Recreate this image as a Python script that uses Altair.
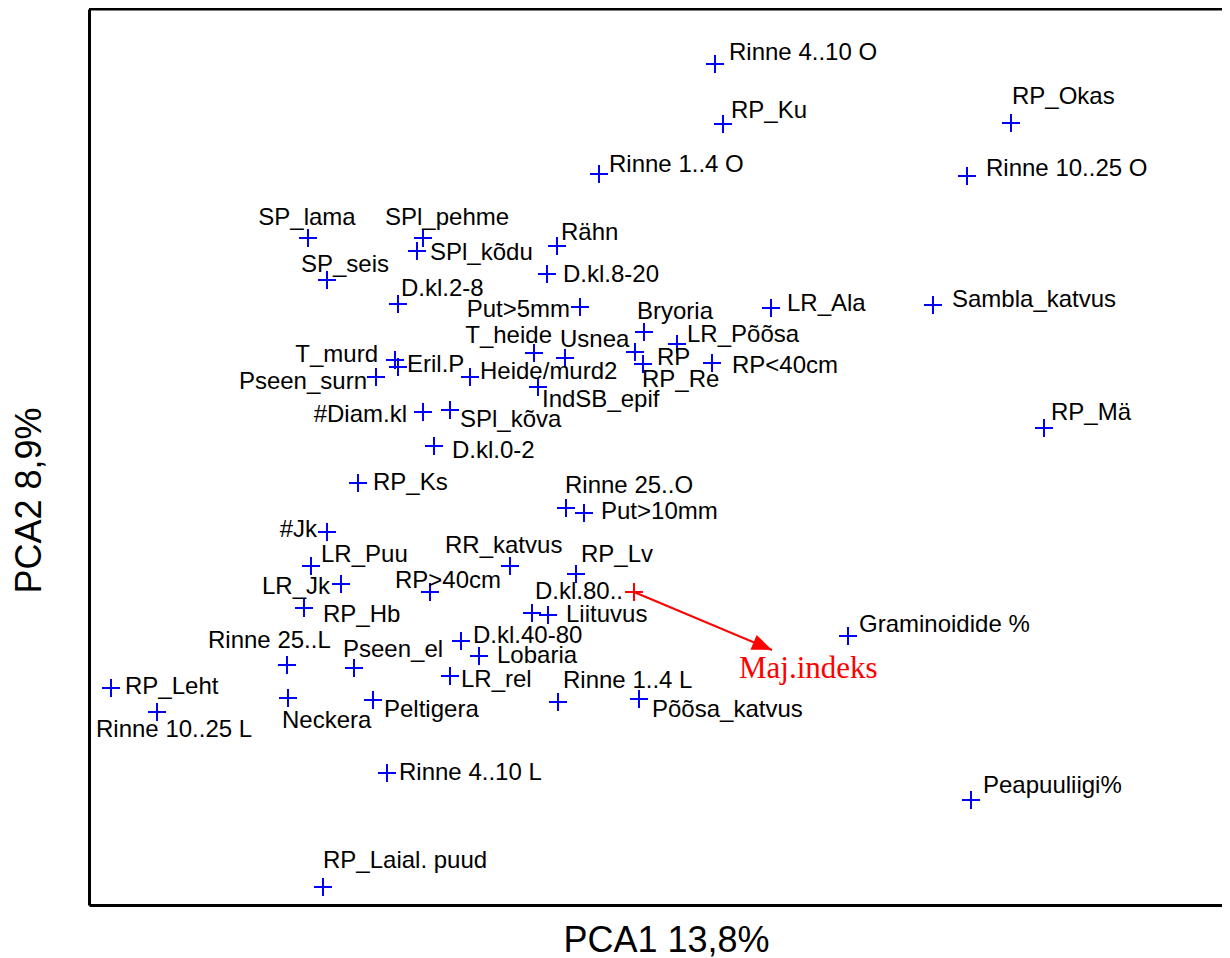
import math
import altair as alt
import pandas as pd

# ---- active variables (blue crosses) ----
names = [
    "SP_lama", "SPl_pehme", "SPl_kõdu", "SP_seis", "D.kl.2-8",
    "Rinne 4..10 O", "RP_Ku", "Rinne 1..4 O", "Rähn", "D.kl.8-20",
    "Put>5mm", "LR_Ala", "Bryoria", "RP_Okas", "Rinne 10..25 O",
    "Sambla_katvus", "T_murd", "Eril.P", "Pseen_surn", "Heide/murd2",
    "#Diam.kl", "SPl_kõva", "D.kl.0-2", "RP_Ks", "#Jk",
    "LR_Puu", "LR_Jk", "RP>40cm", "RP_Hb", "T_heide",
    "Usnea", "RP", "RP_Re", "LR_Põõsa", "RP<40cm",
    "IndSB_epif", "Rinne 25..O", "Put>10mm", "RR_katvus", "RP_Lv",
    "Liituvus", "", "D.kl.40-80", "Lobaria", "LR_rel",
    "Pseen_el", "Rinne 25..L", "Neckera", "Peltigera", "Rinne 1..4 L",
    "Põõsa_katvus", "RP_Leht", "Rinne 10..25 L", "Rinne 4..10 L", "RP_Laial. puud",
    "Graminoidide %", "Peapuuliigi%", "RP_Mä",
]
pc1 = [
    -3.47, -2.32, -2.38, -3.28, -2.57,
    0.60, 0.68, -0.56, -0.98, -1.08,
    -0.75, 1.16, -0.11, 3.56, 3.12,
    2.78, -2.60, -2.57, -2.79, -1.85,
    -2.32, -2.05, -2.21, -2.97, -3.28,
    -3.44, -3.14, -2.25, -3.51, -1.21,
    -0.90, -0.20, -0.12, 0.22, 0.57,
    -1.17, -0.89, -0.71, -1.45, -0.79,
    -1.07, -1.23, -1.94, -1.76, -2.05,
    -3.01, -3.68, -3.67, -2.82, -0.97,
    -0.16, -5.44, -4.98, -2.68, -3.32,
    1.93, 3.16, 3.89,
]
pc2 = [
    2.19, 2.19, 2.06, 1.77, 1.53,
    3.93, 3.33, 2.83, 2.11, 1.83,
    1.50, 1.49, 1.25, 3.34, 2.81,
    1.52, 0.97, 0.90, 0.80, 0.80,
    0.45, 0.47, 0.11, -0.26, -0.75,
    -1.09, -1.27, -1.35, -1.51, 1.04,
    0.99, 1.05, 0.93, 1.13, 0.94,
    0.70, -0.51, -0.56, -1.09, -1.17,
    -1.58, -1.56, -1.84, -1.99, -2.19,
    -2.11, -2.08, -2.41, -2.43, -2.45,
    -2.42, -2.31, -2.55, -3.16, -4.30,
    -1.79, -3.43, 0.29,
]
# label anchor points, and which side of the text is anchored
label_x = [
    -3.48, -2.70, -2.25, -3.54, -2.54,
    0.74, 0.76, -0.46, -0.94, -0.92,
    -0.85, 1.32, -0.18, 3.57, 3.31,
    2.97, -2.77, -2.48, -2.88, -1.75,
    -2.48, -1.95, -2.03, -2.82, -3.38,
    -3.34, -3.25, -2.60, -3.32, -1.03,
    -0.95, 0.02, -0.13, 0.32, 0.77,
    -1.13, -0.90, -0.54, -2.10, -0.74,
    -0.89, -1.23, -1.82, -1.58, -1.94,
    -3.12, -4.47, -3.73, -2.71, -0.92,
    -0.03, -5.30, -5.59, -2.56, -3.32,
    2.04, 3.28, 3.96,
]
label_y = [
    2.32, 2.32, 1.97, 1.85, 1.61,
    3.97, 3.39, 2.85, 2.17, 1.75,
    1.40, 1.46, 1.38, 3.53, 2.81,
    1.50, 0.95, 0.85, 0.68, 0.78,
    0.35, 0.30, -0.01, -0.33, -0.80,
    -1.05, -1.37, -1.31, -1.65, 1.14,
    1.10, 0.92, 0.70, 1.15, 0.84,
    0.50, -0.36, -0.62, -0.96, -1.05,
    -1.65, -1.56, -1.86, -2.06, -2.30,
    -2.00, -1.91, -2.71, -2.60, -2.31,
    -2.60, -2.37, -2.80, -3.23, -4.11,
    -1.75, -3.36, 0.37,
]
label_side = [
    "center", "left", "left", "left", "left",
    "left", "left", "left", "left", "left",
    "right", "left", "left", "left", "left",
    "left", "right", "left", "right", "left",
    "right", "left", "left", "left", "right",
    "left", "right", "left", "left", "right",
    "left", "left", "left", "left", "left",
    "left", "left", "left", "left", "left",
    "left", "left", "left", "left", "left",
    "left", "left", "left", "left", "left",
    "left", "left", "left", "left", "left",
    "left", "left", "left",
]

# ---- supplementary variable (red) ----
sup_names = ["D.kl.80.."]
sup_pc1 = [-0.21]
sup_pc2 = [-1.35]
sup_label_x = [-0.32]
sup_label_y = [-1.42]

arrow_names = ["Maj.indeks"]
arrow_x = [-0.21]
arrow_y = [-1.35]
arrow_x2 = [1.17]
arrow_y2 = [-1.93]
arrow_label_x = [0.84]
arrow_label_y = [-2.21]

x_title = "PCA1 13,8%"
y_title = "PCA2 8,9%"

# ---- layout ----
X_DOMAIN = [-5.66, 5.67]
Y_DOMAIN = [-4.48, 4.48]
W, H = 1133, 896
FONT = "Liberation Sans"

pts = pd.DataFrame({"name": names, "x": pc1, "y": pc2,
                    "lx": label_x, "ly": label_y, "side": label_side})
sup = pd.DataFrame({"name": sup_names, "x": sup_pc1, "y": sup_pc2,
                    "lx": sup_label_x, "ly": sup_label_y})
arr = pd.DataFrame({"name": arrow_names, "x": arrow_x, "y": arrow_y,
                    "x2": arrow_x2, "y2": arrow_y2,
                    "lx": arrow_label_x, "ly": arrow_label_y})

# arrow direction in screen space (clockwise degrees)
px_per_x = W / (X_DOMAIN[1] - X_DOMAIN[0])
px_per_y = H / (Y_DOMAIN[1] - Y_DOMAIN[0])
arr["angle"] = [
    math.degrees(math.atan2(-(b2 - b1) * px_per_y, (a2 - a1) * px_per_x))
    for a1, b1, a2, b2 in zip(arrow_x, arrow_y, arrow_x2, arrow_y2)
]

xs = alt.Scale(domain=X_DOMAIN, nice=False, zero=False)
ys = alt.Scale(domain=Y_DOMAIN, nice=False, zero=False)

x_axis = alt.Axis(title=x_title, domain=True, domainColor="black", domainWidth=3,
                  ticks=False, labels=False, grid=False, orient="bottom",
                  titleFont=FONT, titleFontSize=36, titleFontWeight="normal",
                  titleColor="black", titleX=577, titleY=46, titleAlign="center",
                  titleBaseline="alphabetic")
y_axis = alt.Axis(title=y_title, domain=True, domainColor="black", domainWidth=3,
                  ticks=False, labels=False, grid=False, orient="left",
                  titleFont=FONT, titleFontSize=36, titleFontWeight="normal",
                  titleColor="black", titleX=-49, titleY=491, titleAlign="center",
                  titleAngle=-90, titleBaseline="alphabetic")


def X(f):
    return alt.X(f, type="quantitative", scale=xs, axis=x_axis)


def Y(f):
    return alt.Y(f, type="quantitative", scale=ys, axis=y_axis)


CROSS = "M-1,0L1,0M0,-1L0,1"
HEAD = "M0,0L-2,-0.8L-2,0.8Z"

crosses = alt.Chart(pts).mark_point(
    shape=CROSS, filled=False, color="#0000ff", strokeWidth=2, size=324, opacity=1
).encode(x=X("x"), y=Y("y"))

label_layers = []
for side in ["left", "center", "right"]:
    label_layers.append(
        alt.Chart(pts).transform_filter(alt.datum.side == side).mark_text(
            align=side, baseline="alphabetic", font=FONT, fontSize=24, color="black"
        ).encode(x=X("lx"), y=Y("ly"), text="name:N")
    )

arrow_line = alt.Chart(arr).mark_rule(color="#ff0000", strokeWidth=2).encode(
    x=X("x"), y=Y("y"), x2="x2", y2="y2")
arrow_head = alt.Chart(arr).mark_point(
    shape=HEAD, filled=True, color="#ff0000", size=400, opacity=1
).encode(x=X("x2"), y=Y("y2"), angle=alt.Angle("angle:Q", scale=None))
arrow_label = alt.Chart(arr).mark_text(
    align="left", baseline="alphabetic", font="Liberation Serif", fontSize=31,
    color="#ff0000"
).encode(x=X("lx"), y=Y("ly"), text="name:N")

sup_cross = alt.Chart(sup).mark_point(
    shape=CROSS, filled=False, color="#ff0000", strokeWidth=2, size=324, opacity=1
).encode(x=X("x"), y=Y("y"))
sup_label = alt.Chart(sup).mark_text(
    align="right", baseline="alphabetic", font=FONT, fontSize=24, color="black"
).encode(x=X("lx"), y=Y("ly"), text="name:N")

top_border = alt.Chart(alt.Data(values=[{}])).mark_rule(
    color="black", strokeWidth=3).encode(y=alt.value(0))

chart = alt.layer(
    top_border, crosses, *label_layers, arrow_line, arrow_head, sup_cross,
    sup_label, arrow_label
).properties(
    width=W, height=H,
    autosize=alt.AutoSizeParams(type="none"),
    padding={"left": 81, "top": 1, "right": 0, "bottom": 54},
    background="white",
).configure_view(stroke=None)

chart.save("out.html", embed_options={"renderer": "svg", "actions": False})
